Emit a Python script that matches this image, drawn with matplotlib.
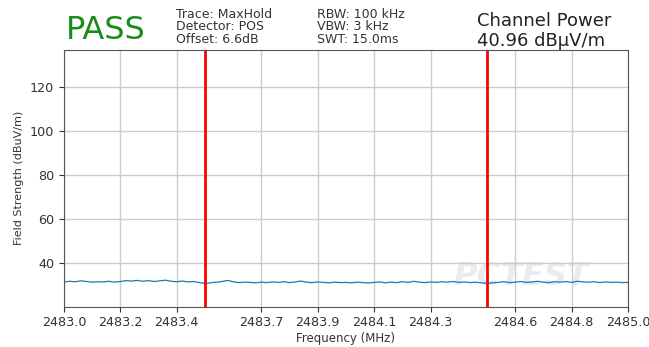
import numpy as np
import matplotlib
matplotlib.use('Agg')
import matplotlib.pyplot as plt

# Trace readings (dBuV/m), sampled every 0.02 MHz from 2483.0 to 2485.0
level = [31.3, 31.6, 31.4, 31.8, 31.5, 31.2, 31.4, 31.3, 31.6, 31.2,
         31.5, 31.9, 31.7, 32.0, 31.6, 31.9, 31.5, 31.8, 32.1, 31.6,
         31.4, 31.7, 31.3, 31.5, 31.0,
         30.6, 30.9, 31.2, 31.5, 32.0, 31.4, 31.0, 31.2, 31.1, 30.9,
         31.2, 31.0, 31.3, 31.1, 31.4, 31.0, 31.3, 31.7, 31.2, 31.0,
         31.3, 31.1, 30.9, 31.2, 31.0,
         31.1, 30.9, 31.2, 31.0, 30.8, 31.1, 31.3, 30.9, 31.2, 31.0,
         31.4, 31.1, 31.6, 31.2, 31.0, 31.3, 31.1, 31.4, 31.2, 31.5,
         31.1, 31.3, 31.0, 31.2, 30.9,
         30.7, 30.9, 31.1, 31.4, 31.0, 31.2, 31.5, 31.1, 31.3, 31.6,
         31.2, 31.0, 31.4, 31.2, 31.5, 31.1, 31.6, 31.3, 31.2, 31.4,
         31.0, 31.3, 31.1, 31.2, 31.0, 31.1]
freq = np.linspace(2483.0, 2485.0, len(level))

band_edges = [2483.5, 2484.5]
xticks = [2483.0, 2483.2, 2483.4, 2483.7, 2483.9, 2484.1, 2484.3,
          2484.6, 2484.8, 2485.0]
yticks = [40, 60, 80, 100, 120]

fig = plt.figure(figsize=(6.49, 3.47), dpi=100)
ax = fig.add_axes([0.0986, 0.116, 0.869, 0.740])  # llx, lly, w, h

ax.plot(freq, level, color='#1f77b4', lw=0.9)
for f in band_edges:
    ax.axvline(f, color='red', lw=2)

ax.set_xlim(2483.0, 2485.0)
ax.set_ylim(20, 137)
ax.set_xticks(xticks)
ax.set_xticklabels(['%.1f' % t for t in xticks])
ax.set_yticks(yticks)
ax.tick_params(labelsize=9.2, colors='#333333')
ax.grid(True, color='#cccccc', lw=1)
for s in ax.spines.values():
    s.set_color('#555555')
ax.set_xlabel('Frequency (MHz)', fontsize=8.5, color='#333333', labelpad=2)
ax.set_ylabel('Field Strength (dBuV/m)', fontsize=8, color='#333333')

# faint watermark
ax.text(2484.38, 30.0, 'PCTEST', fontsize=23, style='italic',
        fontweight='bold', color='#e6ecf2', zorder=0)

fig.text(0.101, 0.912, 'PASS', color='#1a8c1a', fontsize=23,
         va='center')
fig.text(0.271, 0.978, 'Trace: MaxHold\nDetector: POS\nOffset: 6.6dB',
         fontsize=9, color='#333333', va='top', linespacing=0.98)
fig.text(0.488, 0.978, 'RBW: 100 kHz\nVBW: 3 kHz\nSWT: 15.0ms',
         fontsize=9, color='#333333', va='top', linespacing=0.98)
fig.text(0.735, 0.94, 'Channel Power', fontsize=13, color='#222222',
         va='center')
fig.text(0.735, 0.882, '40.96 dB\u03bcV/m', fontsize=13,
         color='#222222', va='center')

fig.savefig('out.png', dpi=100)
